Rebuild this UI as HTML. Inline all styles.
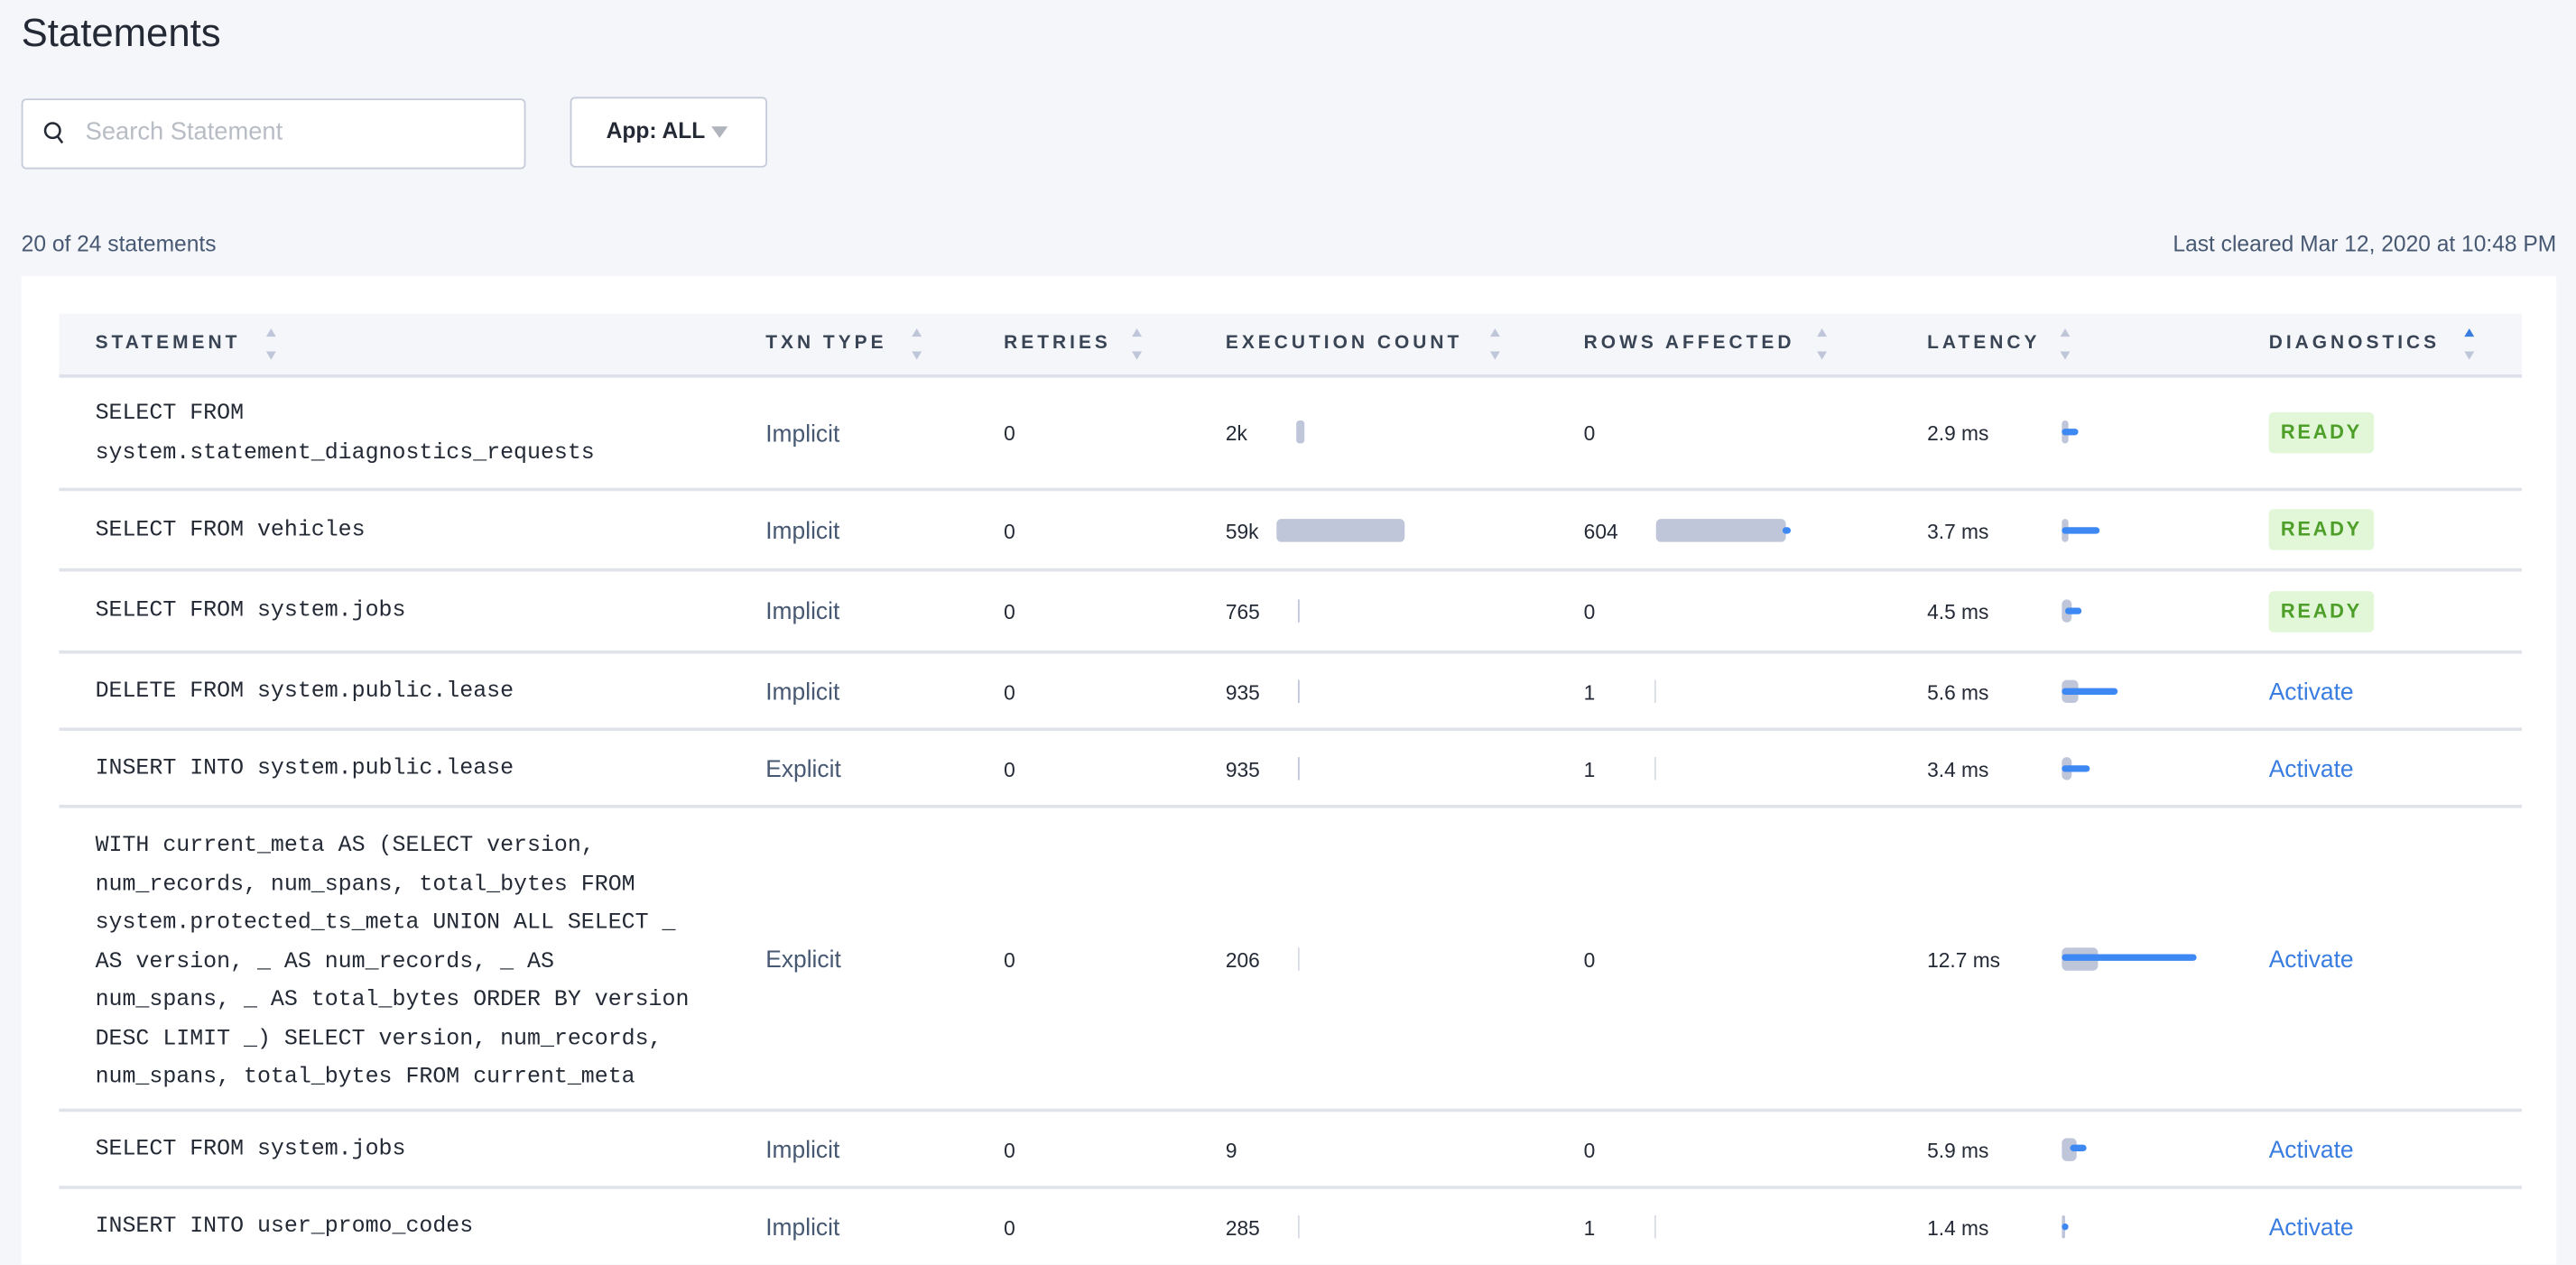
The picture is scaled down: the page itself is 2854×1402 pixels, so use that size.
<!DOCTYPE html>
<html><head><meta charset="utf-8">
<style>
html,body{margin:0;padding:0;width:2854px;height:1400px;overflow:hidden;background:#f5f6fa;}
#w{position:absolute;left:0;top:0;width:1568px;height:770px;transform:scale(1.8202);transform-origin:0 0;font-family:"Liberation Sans",sans-serif;}
.a{position:absolute;white-space:nowrap;}
.h{font-size:11.5px;font-weight:bold;letter-spacing:2.2px;color:#394455;top:203px;}
.arr{position:absolute;width:0;height:0;border-left:3px solid transparent;border-right:3px solid transparent;}
.up{border-bottom:5px solid #c0c6d9;top:200px;}
.dn{border-top:5px solid #c0c6d9;top:214px;}
.line{position:absolute;left:36px;width:1499px;height:2px;background:#e0e3ea;}
.mono{font-family:"Liberation Mono",monospace;font-size:13.7px;color:#242a35;line-height:23.5px;}
.txn{font-size:14.5px;color:#475872;margin-top:2px;}
.num{font-size:12.5px;color:#242a35;}
.gb{position:absolute;background:#c0c6d9;border-radius:3px;height:14px;}
.tl{position:absolute;background:#c0c6d9;width:1px;height:14px;}
.bl{position:absolute;background:#3d88f2;height:4px;border-radius:2px;}
.ready{position:absolute;left:1381px;width:64px;height:25px;background:#e1f7d8;border-radius:3px;color:#4e9f29;font-weight:bold;font-size:12px;letter-spacing:1.5px;text-align:center;line-height:25px;}
.act{font-size:14.5px;color:#3a7de1;margin-top:2px;}
</style></head><body><div id="w">
<div class="a" style="left:13px;top:7px;font-size:24px;color:#242a35;">Statements</div>
<div class="a" style="left:13px;top:60px;width:305px;height:41px;background:#fff;border:1px solid #c6cbd9;border-radius:3px;"></div>
<svg class="a" style="left:26px;top:73px" width="14" height="16" viewBox="0 0 14 16"><circle cx="6" cy="6.5" r="4.5" fill="none" stroke="#242a35" stroke-width="1.4"/><line x1="9" y1="10" x2="12" y2="14" stroke="#242a35" stroke-width="1.4"/></svg>
<div class="a" style="left:52px;top:72px;font-size:15px;color:#b8bcc4;">Search Statement</div>
<div class="a" style="left:347px;top:59px;width:118px;height:41px;background:#fff;border:1px solid #c6cbd9;border-radius:3px;"></div>
<div class="a" style="left:369px;top:72px;font-size:13.5px;font-weight:bold;color:#242a35;">App: ALL</div>
<div class="arr" style="left:433px;top:77px;border-left:5px solid transparent;border-right:5px solid transparent;border-top:7px solid #b0b4bc;"></div>
<div class="a" style="left:13px;top:141px;font-size:13.5px;color:#475872;">20 of 24 statements</div>
<div class="a" style="right:12px;top:141px;font-size:13.5px;color:#475872;">Last cleared Mar 12, 2020 at 10:48 PM</div>
<div class="a" style="left:13px;top:168px;width:1543px;height:602px;background:#fff;"></div>
<div class="a" style="left:36px;top:191px;width:1499px;height:38px;background:#f5f6fa;"></div>
<div class="line" style="top:228px;height:2px;background:#dde1ea"></div>
<div class="a h" style="left:58px">STATEMENT</div><div class="arr up" style="left:162px"></div><div class="arr dn" style="left:162px"></div>
<div class="a h" style="left:466px">TXN TYPE</div><div class="arr up" style="left:555px"></div><div class="arr dn" style="left:555px"></div>
<div class="a h" style="left:611px">RETRIES</div><div class="arr up" style="left:689px"></div><div class="arr dn" style="left:689px"></div>
<div class="a h" style="left:746px">EXECUTION COUNT</div><div class="arr up" style="left:907px"></div><div class="arr dn" style="left:907px"></div>
<div class="a h" style="left:964px">ROWS AFFECTED</div><div class="arr up" style="left:1106px"></div><div class="arr dn" style="left:1106px"></div>
<div class="a h" style="left:1173px">LATENCY</div><div class="arr up" style="left:1254px"></div><div class="arr dn" style="left:1254px"></div>
<div class="a h" style="left:1381px">DIAGNOSTICS</div><div class="arr up" style="left:1500px;border-bottom-color:#3a7de1"></div><div class="arr dn" style="left:1500px"></div>

<div class="line" style="top:297px"></div><div class="line" style="top:346px"></div><div class="line" style="top:396px"></div><div class="line" style="top:443px"></div><div class="line" style="top:490px"></div><div class="line" style="top:675px"></div><div class="line" style="top:722px"></div>

<div class="a mono" style="left:58px;top:241px">SELECT FROM<br>system.statement_diagnostics_requests</div>
<div class="a txn" style="left:466px;top:255px">Implicit</div>
<div class="a num" style="left:611px;top:257px">0</div>
<div class="a num" style="left:746px;top:257px">2k</div><div class="gb" style="left:789px;top:256px;width:5px;border-radius:2px"></div>
<div class="a num" style="left:964px;top:257px">0</div>
<div class="a num" style="left:1173px;top:257px">2.9 ms</div><div class="gb" style="left:1255px;top:256px;width:4px;border-radius:2px"></div><div class="bl" style="left:1255px;top:261px;width:10px"></div>
<div class="ready" style="top:251px">READY</div>

<div class="a mono" style="left:58px;top:312px">SELECT FROM vehicles</div>
<div class="a txn" style="left:466px;top:314px">Implicit</div>
<div class="a num" style="left:611px;top:317px">0</div>
<div class="a num" style="left:746px;top:317px">59k</div><div class="gb" style="left:777px;top:316px;width:78px"></div>
<div class="a num" style="left:964px;top:317px">604</div><div class="gb" style="left:1008px;top:316px;width:79px"></div><div class="bl" style="left:1085px;top:321px;width:5px"></div>
<div class="a num" style="left:1173px;top:317px">3.7 ms</div><div class="gb" style="left:1255px;top:316px;width:4px;border-radius:2px"></div><div class="bl" style="left:1255px;top:321px;width:23px"></div>
<div class="ready" style="top:310px">READY</div>

<div class="a mono" style="left:58px;top:361px">SELECT FROM system.jobs</div>
<div class="a txn" style="left:466px;top:363px">Implicit</div>
<div class="a num" style="left:611px;top:366px">0</div>
<div class="a num" style="left:746px;top:366px">765</div><div class="tl" style="left:790px;top:365px"></div>
<div class="a num" style="left:964px;top:366px">0</div>
<div class="a num" style="left:1173px;top:366px">4.5 ms</div><div class="gb" style="left:1255px;top:365px;width:6px"></div><div class="bl" style="left:1257px;top:370px;width:10px"></div>
<div class="ready" style="top:360px">READY</div>

<div class="a mono" style="left:58px;top:410px">DELETE FROM system.public.lease</div>
<div class="a txn" style="left:466px;top:412px">Implicit</div>
<div class="a num" style="left:611px;top:415px">0</div>
<div class="a num" style="left:746px;top:415px">935</div><div class="tl" style="left:790px;top:414px"></div>
<div class="a num" style="left:964px;top:415px">1</div><div class="tl" style="left:1007px;top:414px;background:#d8dbe4"></div>
<div class="a num" style="left:1173px;top:415px">5.6 ms</div><div class="gb" style="left:1255px;top:414px;width:10px"></div><div class="bl" style="left:1255px;top:419px;width:34px"></div>
<div class="a act" style="left:1381px;top:412px">Activate</div>

<div class="a mono" style="left:58px;top:457px">INSERT INTO system.public.lease</div>
<div class="a txn" style="left:466px;top:459px">Explicit</div>
<div class="a num" style="left:611px;top:462px">0</div>
<div class="a num" style="left:746px;top:462px">935</div><div class="tl" style="left:790px;top:461px"></div>
<div class="a num" style="left:964px;top:462px">1</div><div class="tl" style="left:1007px;top:461px;background:#d8dbe4"></div>
<div class="a num" style="left:1173px;top:462px">3.4 ms</div><div class="gb" style="left:1255px;top:461px;width:6px"></div><div class="bl" style="left:1255px;top:466px;width:17px"></div>
<div class="a act" style="left:1381px;top:459px">Activate</div>

<div class="a mono" style="left:58px;top:504px">WITH current_meta AS (SELECT version,<br>num_records, num_spans, total_bytes FROM<br>system.protected_ts_meta UNION ALL SELECT _<br>AS version, _ AS num_records, _ AS<br>num_spans, _ AS total_bytes ORDER BY version<br>DESC LIMIT _) SELECT version, num_records,<br>num_spans, total_bytes FROM current_meta</div>
<div class="a txn" style="left:466px;top:575px">Explicit</div>
<div class="a num" style="left:611px;top:578px">0</div>
<div class="a num" style="left:746px;top:578px">206</div><div class="tl" style="left:790px;top:577px;background:#d8dbe4"></div>
<div class="a num" style="left:964px;top:578px">0</div>
<div class="a num" style="left:1173px;top:578px">12.7 ms</div><div class="gb" style="left:1255px;top:577px;width:22px"></div><div class="bl" style="left:1255px;top:581px;width:82px"></div>
<div class="a act" style="left:1381px;top:575px">Activate</div>

<div class="a mono" style="left:58px;top:689px">SELECT FROM system.jobs</div>
<div class="a txn" style="left:466px;top:691px">Implicit</div>
<div class="a num" style="left:611px;top:694px">0</div>
<div class="a num" style="left:746px;top:694px">9</div>
<div class="a num" style="left:964px;top:694px">0</div>
<div class="a num" style="left:1173px;top:694px">5.9 ms</div><div class="gb" style="left:1255px;top:693px;width:9px"></div><div class="bl" style="left:1260px;top:697px;width:10px"></div>
<div class="a act" style="left:1381px;top:691px">Activate</div>

<div class="a mono" style="left:58px;top:736px">INSERT INTO user_promo_codes</div>
<div class="a txn" style="left:466px;top:738px">Implicit</div>
<div class="a num" style="left:611px;top:741px">0</div>
<div class="a num" style="left:746px;top:741px">285</div><div class="tl" style="left:790px;top:740px;background:#d8dbe4"></div>
<div class="a num" style="left:964px;top:741px">1</div><div class="tl" style="left:1007px;top:740px;background:#d8dbe4"></div>
<div class="a num" style="left:1173px;top:741px">1.4 ms</div><div class="gb" style="left:1255px;top:740px;width:2px;border-radius:1px"></div><div class="bl" style="left:1255px;top:745px;width:4px"></div>
<div class="a act" style="left:1381px;top:738px">Activate</div>
</div></body></html>
